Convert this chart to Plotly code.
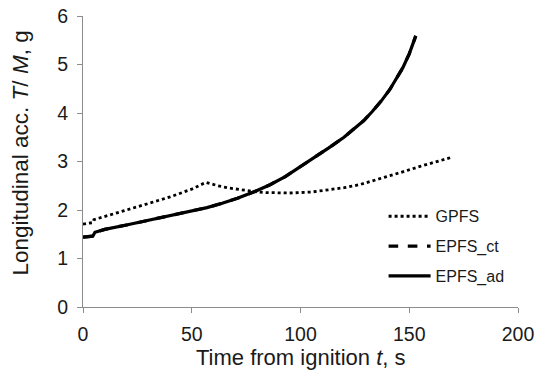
import plotly.graph_objects as go

# Longitudinal acceleration T/M (in g) versus time from ignition
t_gpfs = [0, 4.5, 5, 10, 20, 27.5, 40, 50, 56.5, 62, 67.5, 73, 79, 84, 95, 105, 113, 120, 127, 134, 141, 148, 155, 162, 169]
a_gpfs = [1.71, 1.74, 1.80, 1.87, 2.00, 2.10, 2.27, 2.43, 2.57, 2.50, 2.45, 2.41, 2.38, 2.36, 2.35, 2.37, 2.41, 2.46, 2.52, 2.61, 2.71, 2.80, 2.90, 2.99, 3.08]

t_epfs = [0, 4.5, 5.5, 10, 20, 27.5, 35, 42, 50, 57, 64, 71, 79, 86, 93, 100, 107, 113, 120, 125, 129, 133, 137, 141, 144, 147, 150, 153]
a_epfs_ct = [1.44, 1.46, 1.54, 1.60, 1.69, 1.76, 1.83, 1.90, 1.98, 2.05, 2.14, 2.24, 2.38, 2.52, 2.69, 2.89, 3.10, 3.28, 3.50, 3.68, 3.84, 4.03, 4.24, 4.48, 4.69, 4.93, 5.22, 5.59]
a_epfs_ad = [1.44, 1.46, 1.54, 1.60, 1.69, 1.76, 1.83, 1.90, 1.98, 2.05, 2.14, 2.24, 2.38, 2.52, 2.69, 2.89, 3.10, 3.28, 3.50, 3.68, 3.84, 4.03, 4.24, 4.48, 4.69, 4.93, 5.22, 5.59]

x_ticks = [0, 50, 100, 150, 200]
y_ticks = [0, 1, 2, 3, 4, 5, 6]

FONT = "Liberation Sans, Arial"
INK = "#1a1a1a"

fig = go.Figure()
fig.add_trace(go.Scatter(x=t_gpfs, y=a_gpfs, mode="lines", name="GPFS", legendgroup="g1",
                         line=dict(color="black", width=2.8, dash="dot")))
fig.add_trace(go.Scatter(x=t_epfs, y=a_epfs_ct, mode="lines", name="EPFS_ct", legendgroup="g2",
                         line=dict(color="black", width=3.2, dash="dash")))
fig.add_trace(go.Scatter(x=t_epfs, y=a_epfs_ad, mode="lines", name="EPFS_ad", legendgroup="g3",
                         line=dict(color="black", width=3.2)))

axis_common = dict(showline=True, linecolor="#8c8c8c", linewidth=1, showgrid=False, zeroline=False,
                   ticks="outside", ticklen=5, tickcolor="#8c8c8c", automargin=False,
                   ticklabelstandoff=5,
                   tickfont=dict(family=FONT, size=19.5, color=INK))

fig.update_xaxes(range=[0, 200], tickvals=x_ticks, **axis_common)
fig.update_yaxes(range=[0, 6], tickvals=y_ticks, **axis_common)

# Axis titles
fig.add_annotation(text="Time from ignition <i>t</i>, s", xref="paper", yref="paper",
                   x=0.5, y=-0.172, xanchor="center", yanchor="middle", showarrow=False,
                   font=dict(family=FONT, size=22, color=INK))
fig.add_annotation(text="Longitudinal acc. <i>T</i>/ <i>M</i>, g", xref="paper", yref="paper",
                   x=-0.1448, y=0.5275, xanchor="center", yanchor="middle", textangle=-90,
                   showarrow=False, font=dict(family=FONT, size=22.5, color=INK))

fig.update_layout(
    width=537, height=374,
    margin=dict(l=83, r=19, t=16, b=67),
    paper_bgcolor="white", plot_bgcolor="white",
    legend=dict(x=0.691, y=0.37, xanchor="left", yanchor="top", tracegroupgap=6,
                itemwidth=42,
                font=dict(family=FONT, size=16, color=INK),
                bgcolor="rgba(0,0,0,0)"),
)

fig.write_html("out.html")
